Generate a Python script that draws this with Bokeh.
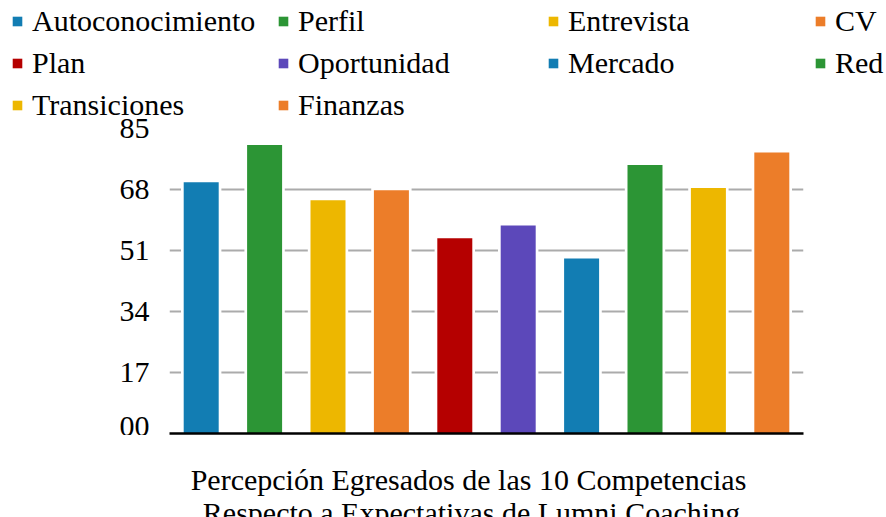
from bokeh.plotting import figure
from bokeh.layouts import column
from bokeh.models import Legend, LegendItem, ColumnDataSource, FixedTicker, Label
from bokeh.embed import file_html
from bokeh.resources import INLINE

categories = ["Autoconocimiento", "Perfil", "Entrevista", "CV", "Plan",
              "Oportunidad", "Mercado", "Red", "Transiciones", "Finanzas"]
values = [70.0, 80.4, 65.0, 67.8, 54.4, 58.0, 48.8, 74.8, 68.4, 78.3]
colors = ["#127DB3", "#2C9535", "#EDB700", "#EC7D29", "#B50000",
          "#5C48BA", "#127DB3", "#2C9535", "#EDB700", "#EC7D29"]
y_ticks = [0, 17, 34, 51, 68, 85]
y_tick_labels = ["00", "17", "34", "51", "68", "85"]
x_title_lines = ["Percepción Egresados de las 10 Competencias",
                 "Respecto a Expectativas de Lumni Coaching"]

FONT = "Liberation Serif"
W = 886
LEG_H = 115
BOT_H = 82
CHART_H = 517 - LEG_H - BOT_H

src = ColumnDataSource(dict(
    cat=categories,
    val=values,
    border_top=[v + 0.75 for v in values],
    color=colors,
))

# ---------------- legend strip ----------------
pl = figure(width=W, height=LEG_H, x_range=categories, y_range=(-2, -1),
            output_backend="svg", toolbar_location=None,
            x_axis_location=None, y_axis_location=None,
            min_border=0, min_border_left=0, min_border_right=0,
            min_border_top=0, min_border_bottom=0)
pl.outline_line_color = None
pl.xgrid.grid_line_color = None
pl.ygrid.grid_line_color = None
# markers sit outside the visible range; they only feed the legend swatches
leg_marks = pl.scatter(x="cat", y="val", marker="square", source=src,
                       fill_color="color", line_color=None)

ncol = 4
col_x = [5, 271, 541, 808]
for c in range(ncol):
    idx = list(range(c, len(categories), ncol))
    n = len(idx)
    h = n * 34 + (n - 1) * 8
    lg = Legend(items=[LegendItem(label=categories[i], renderers=[leg_marks], index=i) for i in idx],
                orientation="vertical", location=(col_x[c], LEG_H - 3.5 - h),
                padding=0, margin=0, spacing=8,
                glyph_width=24, glyph_height=34, label_standoff=3,
                label_text_font=FONT, label_text_font_size="30px",
                label_text_color="black", label_height=34,
                border_line_color=None, background_fill_alpha=0)
    pl.add_layout(lg)

# ---------------- bar chart ----------------
p = figure(width=W, height=CHART_H, x_range=categories, y_range=(0, 85),
           output_backend="svg", toolbar_location=None,
           min_border_left=169, min_border_right=83,
           min_border_top=13, min_border_bottom=2)
p.outline_line_color = None

# white halo behind bars (breaks gridlines around bars)
p.vbar(x="cat", top="border_top", width=0.637, source=src,
       fill_color="white", line_color=None)
p.vbar(x="cat", top="val", width=0.552, source=src,
       fill_color="color", line_color=None)

p.yaxis.ticker = FixedTicker(ticks=y_ticks)
p.yaxis.major_label_overrides = {t: l for t, l in zip(y_ticks, y_tick_labels)}
p.yaxis.axis_line_color = None
p.yaxis.major_tick_line_color = None
p.yaxis.minor_tick_line_color = None
p.yaxis.major_label_text_font = FONT
p.yaxis.major_label_text_font_size = "30px"
p.yaxis.major_label_text_color = "black"
p.yaxis.major_label_standoff = 14

p.xaxis.axis_line_color = "black"
p.xaxis.axis_line_width = 2.5
p.xaxis.major_tick_line_color = None
p.xaxis.minor_tick_line_color = None
p.xaxis.major_tick_out = 0
p.xaxis.major_label_standoff = 0
p.xaxis.major_label_text_color = None
p.xaxis.major_label_text_font_size = "1px"

p.xgrid.grid_line_color = None
p.ygrid.grid_line_color = "#ABABAB"
p.ygrid.grid_line_width = 2

# ---------------- category-axis title strip ----------------
pb = figure(width=W, height=BOT_H, output_backend="svg", toolbar_location=None,
            x_axis_location=None, y_axis_location=None,
            min_border=0, min_border_left=0, min_border_right=0,
            min_border_top=0, min_border_bottom=0)
pb.outline_line_color = None
pb.xgrid.grid_line_color = None
pb.ygrid.grid_line_color = None
for line, cx, by in zip(x_title_lines, [468, 471], [38, 5]):
    pb.add_layout(Label(x=cx, y=by, x_units="screen", y_units="screen",
                        text=line, text_align="center", text_baseline="alphabetic",
                        text_font=FONT, text_font_size="30px", text_color="black"))

if "frame_align" in pl.properties():
    for f in (pl, p, pb):
        f.frame_align = False
    out = column(pl, p, pb, spacing=0)
else:
    out = [pl, p, pb]

open("out.html", "w").write(file_html(out, INLINE))
